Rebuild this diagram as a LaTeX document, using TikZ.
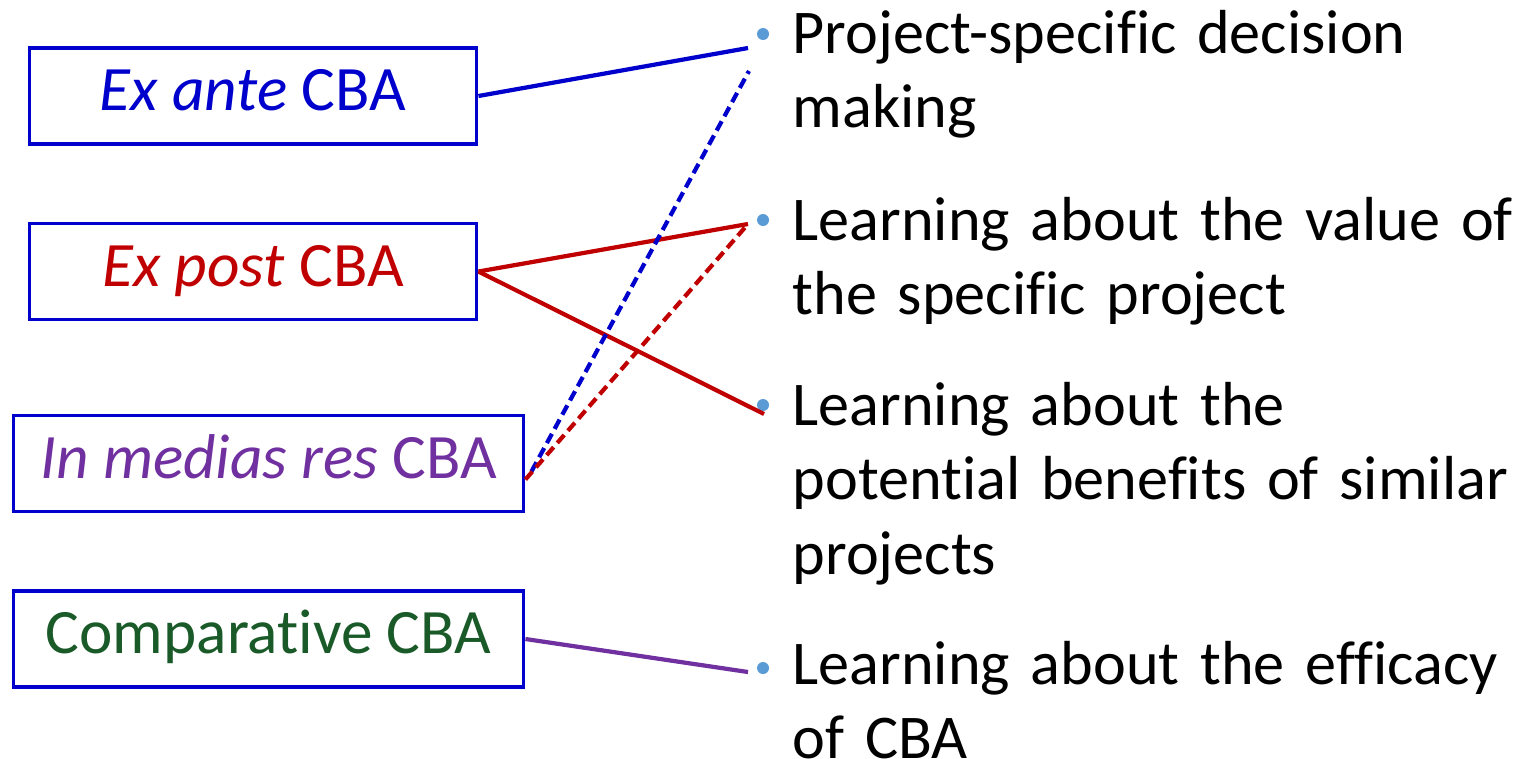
\documentclass[tikz,border=0pt]{standalone}
\usepackage{fontspec}
\setmainfont{Carlito}[Ligatures=NoCommon]
\usetikzlibrary{calc}

\definecolor{anteblue}{RGB}{0,0,204}
\definecolor{postred}{RGB}{192,0,0}
\definecolor{mediapurple}{RGB}{112,48,160}
\definecolor{compgreen}{RGB}{25,90,40}
\definecolor{dotblue}{RGB}{91,155,213}

\tikzset{
  cbabox/.style={draw=anteblue, line width=1.1pt, minimum height=0.96cm, inner sep=0pt,
    text height=0.45cm, text depth=0.16cm, font=\fontsize{18}{21.3}\selectfont},
  usetext/.style={anchor=base west, text width=8cm, align=left, inner sep=0pt,
    font=\fontsize{17.7}{21.3}\selectfont},
  listdot/.style={circle, fill=dotblue, minimum size=0.12cm, inner sep=0pt},
  link/.style={line width=1.2pt},
  linkdash/.style={line width=1.2pt, dash pattern=on 3pt off 1.6pt},
}

\begin{document}
\begin{tikzpicture}
    \useasboundingbox (0,0) rectangle (15.16,7.58);

    % Tipi di CBA (riquadri a sinistra)
    \node[cbabox, minimum width=4.47cm] (exante) at (2.53,6.62) {\textcolor{anteblue}{\textit{Ex ante} CBA}};
    \node[cbabox, minimum width=4.47cm] (expost) at (2.53,4.865) {\textcolor{postred}{\textit{Ex post} CBA}};
    \node[cbabox, minimum width=5.10cm] (medias) at (2.685,2.945) {\textcolor{mediapurple}{\textit{In medias res} CBA}};
    \node[cbabox, minimum width=5.10cm] (compar) at (2.685,1.19) {\textcolor{compgreen}{Comparative CBA}};

    % Scopi (elenco puntato a destra)
    \node[listdot] (b1) at (7.63,7.24) {};
    \node[listdot] (b2) at (7.63,5.38) {};
    \node[listdot] (b3) at (7.63,3.53) {};
    \node[listdot] (b4) at (7.63,0.90) {};

    \node[usetext] (t1) at (7.92,7.05) {Project-specific decision\\making};
    \node[usetext] (t2) at (7.92,5.18) {Learning about the value of\\the specific project};
    \node[usetext] (t3) at (7.92,3.33) {Learning about the\\potential benefits of similar\\projects};
    \node[usetext] (t4) at (7.92,0.74) {Learning about the efficacy\\of CBA};

    % Punti di arrivo dei collegamenti
    \coordinate (e1) at ($(b1)+(-0.15,-0.14)$);
    \coordinate (e1d) at ($(b1)+(-0.14,-0.37)$);
    \coordinate (e2) at ($(b2)+(-0.15,-0.04)$);
    \coordinate (e3) at ($(b3)+(0.01,-0.09)$);
    \coordinate (e4) at ($(b4)+(-0.15,-0.04)$);
    \coordinate (s3) at ($(medias.east)+(0,-0.16)$);
    \coordinate (s3b) at ($(medias.east)+(0.06,-0.08)$);

    % Collegamenti
    \draw[link, anteblue] (exante.east) -- (e1);
    \draw[link, postred] (expost.east) -- (e2);
    \draw[link, postred] (expost.east) -- (e3);
    \draw[linkdash, anteblue] (s3b) -- (e1d);
    \draw[linkdash, postred] (s3) -- (e2);
    \draw[link, mediapurple] (compar.east) -- (e4);
\end{tikzpicture}
\end{document}
